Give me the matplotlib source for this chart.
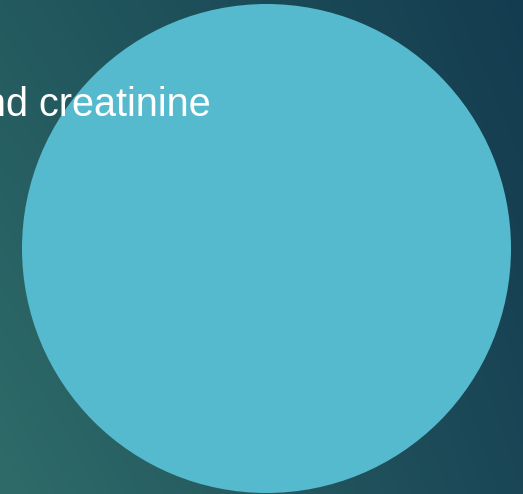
import matplotlib.pyplot as plt
import numpy as np
from matplotlib.patches import Circle

# bubble data (one node shown in the view)
labels = ['Blood urea nitrogen and creatinine']
bubble_x = [266.5]
bubble_y = [248.5]
bubble_r = [244.5]
bubble_colors = ['#55bacd']

W, H = 523, 494
fig = plt.figure(figsize=(W / 100, H / 100), dpi=100)

# background gradient
bg = fig.add_axes([0, 0, 1, 1])
tl = np.array([0x23, 0x5a, 0x5f]) / 255
tr = np.array([0x14, 0x3c, 0x50]) / 255
bl = np.array([0x2f, 0x6c, 0x69]) / 255
br = np.array([0x1a, 0x46, 0x56]) / 255
u = np.linspace(0, 1, W)[None, :, None]
v = np.linspace(0, 1, H)[:, None, None]
img = (1 - v) * ((1 - u) * tl + u * tr) + v * ((1 - u) * bl + u * br)
bg.imshow(img, extent=[0, W, H, 0], aspect='auto')
bg.set_xlim(0, W)
bg.set_ylim(H, 0)
bg.axis('off')

for x, y, r, c in zip(bubble_x, bubble_y, bubble_r, bubble_colors):
    bg.add_patch(Circle((x, y), r, facecolor=c, edgecolor='none'))

# label runs off the left edge, as in the original view
bg.text(211, 105, labels[0], ha='right', va='center', color='white',
        fontsize=28.5, family='Liberation Sans')

fig.savefig('out.png', dpi=100)
